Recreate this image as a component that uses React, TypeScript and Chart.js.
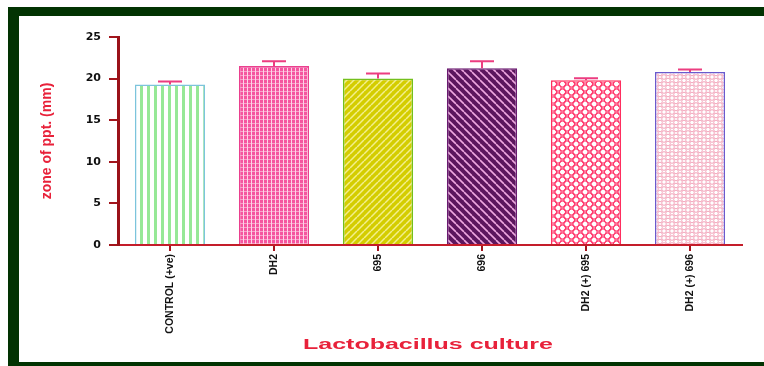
import React, { useEffect, useRef } from "react";
import { Chart, registerables } from "chart.js";

Chart.register(...registerables);

const categories = ["CONTROL (+ve)", "DH2", "695", "696", "DH2 (+) 695", "DH2 (+) 696"];
const means = [19.3, 21.5, 20.0, 21.25, 19.8, 20.8];
const errors = [0.35, 0.6, 0.6, 0.85, 0.25, 0.3];
const yMin = 0;
const yMax = 25;
const yStep = 5;
const yTitle = "zone of ppt. (mm)";
const xTitle = "Lactobacillus culture";

const borderColors = ["#7cc4dc", "#ea3f8e", "#74c01c", "#6a1870", "#ff2e5e", "#6a5acd"];

function tile(w: number, h: number, draw: (c: CanvasRenderingContext2D) => void) {
  const cv = document.createElement("canvas");
  cv.width = w;
  cv.height = h;
  const c = cv.getContext("2d")!;
  draw(c);
  return cv;
}

function makePatterns(ctx: CanvasRenderingContext2D): (CanvasPattern | string)[] {
  const p = (cv: HTMLCanvasElement) => ctx.createPattern(cv, "repeat") as CanvasPattern;
  const stripesV = tile(7, 4, (c) => {
    c.fillStyle = "#ffffff";
    c.fillRect(0, 0, 7, 4);
    c.fillStyle = "#96e896";
    c.fillRect(0, 0, 3, 4);
  });
  const grid = tile(4, 4, (c) => {
    c.fillStyle = "#f5559f";
    c.fillRect(0, 0, 4, 4);
    c.fillStyle = "rgba(255,255,255,0.75)";
    c.fillRect(3, 0, 1, 4);
    c.fillStyle = "rgba(255,255,255,0.45)";
    c.fillRect(0, 3, 3, 1);
  });
  const diagUp = tile(7, 7, (c) => {
    c.fillStyle = "#d4cd00";
    c.fillRect(0, 0, 7, 7);
    c.strokeStyle = "#f3ef8c";
    c.lineWidth = 1.5;
    for (let k = -1; k <= 1; k++) {
      c.beginPath();
      c.moveTo(k * 7, 7);
      c.lineTo(k * 7 + 7, 0);
      c.stroke();
    }
  });
  const diagDown = tile(8, 8, (c) => {
    c.fillStyle = "#5c165e";
    c.fillRect(0, 0, 8, 8);
    c.strokeStyle = "#eea6df";
    c.lineWidth = 1.6;
    for (let k = -1; k <= 1; k++) {
      c.beginPath();
      c.moveTo(k * 8, 0);
      c.lineTo(k * 8 + 8, 8);
      c.stroke();
    }
  });
  const hexNet = tile(9, 8, (c) => {
    c.fillStyle = "#ffffff";
    c.fillRect(0, 0, 9, 8);
    c.strokeStyle = "#ff3a6e";
    c.lineWidth = 1.2;
    const pts = [[0, 0], [9, 0], [0, 8], [9, 8], [4.5, 4]];
    pts.forEach(([x, y]) => {
      c.beginPath();
      c.arc(x, y, 3.1, 0, Math.PI * 2);
      c.stroke();
    });
  });
  const dots = tile(8, 7, (c) => {
    c.fillStyle = "#ffffff";
    c.fillRect(0, 0, 8, 7);
    c.strokeStyle = "#f3a3b9";
    c.lineWidth = 1;
    const pts = [[0, 0], [8, 0], [0, 7], [8, 7], [4, 3.5]];
    pts.forEach(([x, y]) => {
      c.beginPath();
      c.arc(x, y, 2.3, 0, Math.PI * 2);
      c.stroke();
    });
  });
  return [p(stripesV), p(grid), p(diagUp), p(diagDown), p(hexNet), p(dots)];
}

const errorBarPlugin = {
  id: "errorBars",
  afterDatasetsDraw(chart: any) {
    const meta = chart.getDatasetMeta(0);
    const ys = chart.scales.y;
    const ctx = chart.ctx as CanvasRenderingContext2D;
    ctx.save();
    ctx.strokeStyle = "#ec3d80";
    ctx.lineWidth = 2;
    meta.data.forEach((bar: any, i: number) => {
      const top = ys.getPixelForValue(means[i] + errors[i]);
      ctx.beginPath();
      ctx.moveTo(bar.x, bar.y);
      ctx.lineTo(bar.x, top);
      ctx.moveTo(bar.x - 12, top);
      ctx.lineTo(bar.x + 12, top);
      ctx.stroke();
    });
    ctx.restore();
  },
};

const xTitlePlugin = {
  id: "xTitleStretched",
  afterDraw(chart: any) {
    const ctx = chart.ctx as CanvasRenderingContext2D;
    const area = chart.chartArea;
    ctx.save();
    ctx.font = 'bold 14px "Liberation Sans", Arial, sans-serif';
    ctx.fillStyle = "#e8213a";
    ctx.textAlign = "center";
    ctx.textBaseline = "middle";
    const w = ctx.measureText(xTitle).width;
    ctx.translate((area.left + area.right) / 2 - 2, 345);
    ctx.scale(250 / w, 1);
    ctx.fillText(xTitle, 0, 0);
    ctx.restore();
  },
};

export default function App() {
  const ref = useRef<HTMLCanvasElement | null>(null);

  useEffect(() => {
    const canvas = ref.current!;
    const ctx = canvas.getContext("2d")!;
    const patterns = makePatterns(ctx);
    const chart = new Chart(canvas, {
      type: "bar",
      data: {
        labels: categories,
        datasets: [
          {
            data: means,
            backgroundColor: patterns as any,
            borderColor: borderColors,
            borderWidth: 1.6,
            barPercentage: 0.9,
            categoryPercentage: 0.75,
          },
        ],
      },
      options: {
        animation: false,
        responsive: false,
        maintainAspectRatio: false,
        layout: { padding: { left: 19, right: 22, top: 37, bottom: 8 } },
        plugins: { legend: { display: false }, tooltip: { enabled: false }, title: { display: false } },
        scales: {
          x: {
            afterFit: (s: any) => {
              s.height = 113;
            },
            grid: {
              offset: false,
              drawOnChartArea: false,
              drawTicks: true,
              tickLength: 6,
              color: "#a3151c",
              lineWidth: 2,
            },
            border: { display: true, color: "#c41d2a", width: 2 },
            ticks: {
              minRotation: 90,
              maxRotation: 90,
              autoSkip: false,
              padding: 3,
              color: "#111111",
              font: { family: '"Liberation Sans", Arial, sans-serif', size: 10.5, weight: "bold" },
            },
          },
          y: {
            min: yMin,
            max: yMax,
            afterFit: (s: any) => {
              s.width = 99;
            },
            grid: {
              drawOnChartArea: false,
              drawTicks: true,
              tickLength: 9,
              color: "#a3151c",
              lineWidth: 2,
            },
            border: { display: true, color: "#9a1219", width: 3 },
            ticks: {
              stepSize: yStep,
              padding: 8,
              color: "#111111",
              font: { family: '"DejaVu Sans", sans-serif', size: 11, weight: "bold" },
            },
            title: {
              display: true,
              text: yTitle,
              color: "#e8213a",
              padding: { top: 20, bottom: 0 },
              font: { family: '"Liberation Sans", Arial, sans-serif', size: 14, weight: "bold" },
            },
          },
        },
      },
      plugins: [errorBarPlugin, xTitlePlugin],
    });
    return () => chart.destroy();
  }, []);

  return (
    <div
      style={{
        position: "fixed",
        left: 0,
        top: 0,
        width: 764,
        height: 366,
        background: "#ffffff",
        overflow: "hidden",
      }}
    >
      <div style={{ position: "absolute", left: 8, top: 7, right: 0, bottom: 0, background: "#023302" }} />
      <div style={{ position: "absolute", left: 19, top: 16, right: 0, bottom: 4, background: "#ffffff" }} />
      <canvas ref={ref} width={764} height={366} style={{ position: "absolute", left: 0, top: 0 }} />
    </div>
  );
}
